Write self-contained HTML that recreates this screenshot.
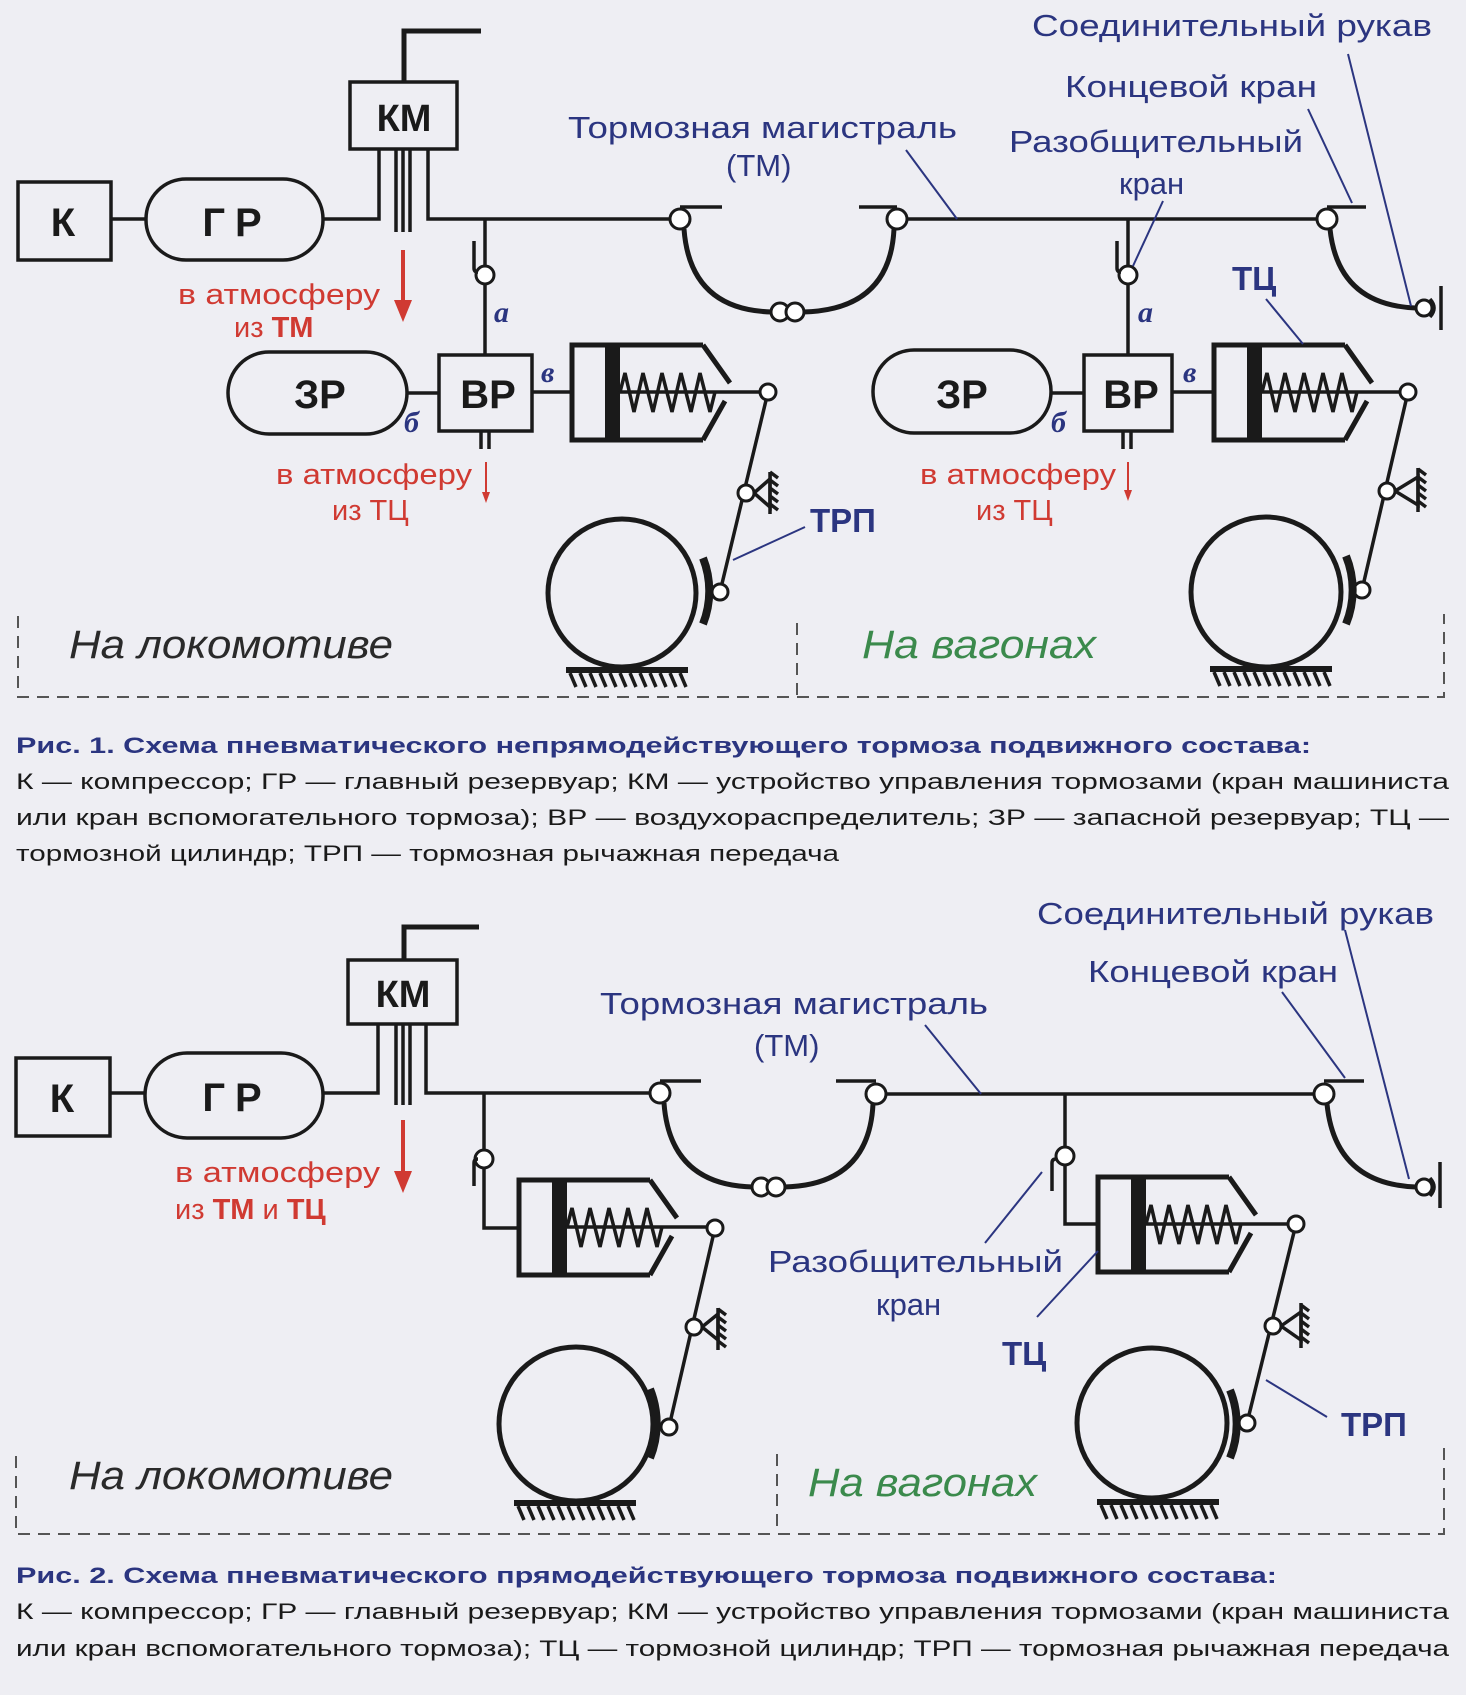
<!DOCTYPE html>
<html><head><meta charset="utf-8"><style>
html,body{margin:0;padding:0;background:#eeeef3;}
svg{display:block}
.ln{stroke:#1a1a1a;stroke-width:3.5;fill:none}
.th{stroke:#1a1a1a;stroke-width:5;fill:none}
.lead{stroke:#2b3580;stroke-width:2;fill:none}
.bx{font-family:"Liberation Sans",sans-serif;font-weight:bold;fill:#1a1a1a;text-anchor:middle}
.bl{font-family:"Liberation Sans",sans-serif;fill:#2b3580}
.rd{font-family:"Liberation Sans",sans-serif;fill:#d03a32;font-size:29px}
.it{font-family:"Liberation Serif",serif;font-style:italic;font-weight:bold;fill:#2b3580;font-size:30px}
.cap{font-family:"Liberation Sans",sans-serif;fill:#1a1a1a;font-size:22px}
.capb{font-family:"Liberation Sans",sans-serif;fill:#2b3580;font-size:22px;font-weight:bold}
.dash{stroke:#555;stroke-width:2;stroke-dasharray:12 8;fill:none}
</style></head><body>
<svg width="1466" height="1695" viewBox="0 0 1466 1695" xmlns="http://www.w3.org/2000/svg">
<defs>
<g id="cyl">
<path class="th" d="M131,0 L0,0 L0,95 L131,95"/>
<path class="th" d="M131,0 L158,38 M153,56 L131,95"/>
<rect x="33" y="0" width="15" height="95" fill="#1a1a1a"/>
<polyline class="ln" stroke-width="3" points="48,47 53,28 62,67 71,28 81,67 90,28 100,67 109,28 119,67 128,28 138,67 143,47"/>
<line class="ln" x1="48" y1="47" x2="196" y2="47"/>
</g>
<g id="hatchR"><path class="ln" stroke-width="1.5" d="M0,0 l8,6 M0,8 l8,6 M0,16 l8,6 M0,24 l8,6 M0,32 l8,6"/></g>
<g id="rail">
<rect x="0" y="0" width="122" height="6" fill="#1a1a1a"/>
<path class="ln" stroke-width="1.5" d="M4,6 l6,14 M14,6 l6,14 M24,6 l6,14 M34,6 l6,14 M44,6 l6,14 M54,6 l6,14 M64,6 l6,14 M74,6 l6,14 M84,6 l6,14 M94,6 l6,14 M104,6 l6,14 M114,6 l6,14"/>
</g>
</defs>

<!-- ================= FIG 1 ================= -->
<!-- К, ГР -->
<rect class="ln" x="18" y="182" width="93" height="78" fill="none" stroke-width="3"/>
<text class="bx" x="63" y="236" font-size="40">К</text>
<line class="ln" x1="111" y1="219" x2="146" y2="219"/>
<rect class="ln" x="146" y="179" width="177" height="81" rx="40" stroke-width="3"/>
<text class="bx" x="237" y="236" font-size="40" letter-spacing="10">ГР</text>
<path class="ln" d="M323,219 H379 V149"/>
<!-- КМ -->
<rect class="ln" x="350" y="82" width="107" height="67" stroke-width="3"/>
<text class="bx" x="404" y="131" font-size="38">КМ</text>
<path class="th" stroke-width="6" d="M404,82 V31 H481"/>
<path class="ln" stroke-width="2.5" d="M396,149 V232 M403,149 V232 M410,149 V232"/>
<path class="ln" d="M428,149 V219 H670"/>
<!-- red arrow 1 -->
<line x1="403" y1="250" x2="403" y2="305" stroke="#d03a32" stroke-width="4"/>
<path d="M394,300 L412,300 L403,322 Z" fill="#d03a32"/>
<text class="rd" x="178" y="304" textLength="202" lengthAdjust="spacingAndGlyphs">в атмосферу</text>
<text class="rd" x="234" y="337">из <tspan font-weight="bold">ТМ</tspan></text>
<!-- branch loco -->
<path class="ln" d="M485,219 V265 M485,284 V355"/>
<circle cx="485" cy="275" r="9" fill="#fff" stroke="#1a1a1a" stroke-width="3"/>
<path class="ln" stroke-width="3" d="M474,241 V268 Q474,272 478,272"/>
<text class="it" x="494" y="322">а</text>
<!-- ЗР ВР -->
<rect class="ln" x="228" y="352" width="179" height="82" rx="41" stroke-width="3"/>
<text class="bx" x="320" y="408" font-size="40">ЗР</text>
<line class="ln" x1="407" y1="393" x2="439" y2="393"/>
<rect class="ln" x="439" y="355" width="93" height="76" stroke-width="3"/>
<text class="bx" x="488" y="408" font-size="40">ВР</text>
<text class="it" x="404" y="432">б</text>
<text class="it" x="541" y="382">в</text>
<line class="ln" x1="532" y1="392" x2="572" y2="392"/>
<path class="ln" stroke-width="2.5" d="M481,431 V449 M489,431 V449"/>
<line x1="486" y1="462" x2="486" y2="495" stroke="#d03a32" stroke-width="2"/>
<path d="M482,492 L490,492 L486,503 Z" fill="#d03a32"/>
<text class="rd" x="276" y="484" textLength="196" lengthAdjust="spacingAndGlyphs" font-size="27">в атмосферу</text>
<text class="rd" x="332" y="520" font-size="27">из ТЦ</text>
<!-- cylinder loco fig1 -->
<use href="#cyl" x="572" y="345"/>
<!-- lever loco fig1 -->
<path class="ln" stroke-width="6" d="M768,392 L720,592"/>
<circle cx="768" cy="392" r="8" fill="#fff" stroke="#1a1a1a" stroke-width="3"/>
<circle cx="720" cy="592" r="8" fill="#fff" stroke="#1a1a1a" stroke-width="3"/>
<path class="ln" stroke-width="3" d="M754,493 L770,479 L770,507 Z"/>
<line class="ln" x1="770" y1="472" x2="770" y2="514" stroke-width="3"/>
<use href="#hatchR" x="770" y="472"/>
<circle cx="746" cy="493" r="8" fill="#fff" stroke="#1a1a1a" stroke-width="3"/>
<circle cx="622" cy="593" r="74" fill="none" stroke="#1a1a1a" stroke-width="5"/>
<path d="M703,558 A90,90 0 0 1 703,624" fill="none" stroke="#1a1a1a" stroke-width="8"/>
<use href="#rail" x="566" y="667"/>
<text class="bl" x="810" y="532" font-size="33" font-weight="bold">ТРП</text>
<line class="lead" x1="805" y1="527" x2="733" y2="560"/>
<!-- TM pipe fig1 -->
<circle cx="680" cy="219" r="10" fill="#fff" stroke="#1a1a1a" stroke-width="3"/>
<line class="ln" x1="680" y1="207" x2="722" y2="207"/>
<path class="th" d="M684,229 Q690,310 772,312"/>
<circle cx="780" cy="312" r="9" fill="#fff" stroke="#1a1a1a" stroke-width="3"/>
<circle cx="795" cy="312" r="9" fill="#fff" stroke="#1a1a1a" stroke-width="3"/>
<path class="th" d="M803,312 Q890,310 894,229"/>
<circle cx="897" cy="219" r="10" fill="#fff" stroke="#1a1a1a" stroke-width="3"/>
<line class="ln" x1="859" y1="207" x2="897" y2="207"/>
<line class="ln" x1="907" y1="219" x2="1317" y2="219"/>
<circle cx="1327" cy="219" r="10" fill="#fff" stroke="#1a1a1a" stroke-width="3"/>
<line class="ln" x1="1327" y1="207" x2="1366" y2="207"/>
<path class="th" d="M1330,229 Q1338,305 1416,308"/>
<circle cx="1424" cy="308" r="8" fill="#fff" stroke="#1a1a1a" stroke-width="3"/>
<path class="ln" stroke-width="3" d="M1430,299 Q1438,308 1430,317"/>
<line class="ln" x1="1441" y1="286" x2="1441" y2="330" stroke-width="3"/>
<!-- car fig1 -->
<path class="ln" d="M1128,219 V265 M1128,284 V355"/>
<circle cx="1128" cy="275" r="9" fill="#fff" stroke="#1a1a1a" stroke-width="3"/>
<path class="ln" stroke-width="3" d="M1117,241 V268 Q1117,272 1121,272"/>
<text class="it" x="1138" y="322">а</text>
<rect class="ln" x="873" y="350" width="178" height="83" rx="41" stroke-width="3"/>
<text class="bx" x="962" y="408" font-size="40">ЗР</text>
<line class="ln" x1="1051" y1="393" x2="1084" y2="393"/>
<rect class="ln" x="1084" y="355" width="88" height="76" stroke-width="3"/>
<text class="bx" x="1131" y="408" font-size="40">ВР</text>
<text class="it" x="1051" y="432">б</text>
<text class="it" x="1183" y="382">в</text>
<line class="ln" x1="1172" y1="392" x2="1214" y2="392"/>
<path class="ln" stroke-width="2.5" d="M1123,431 V449 M1131,431 V449"/>
<line x1="1128" y1="462" x2="1128" y2="493" stroke="#d03a32" stroke-width="2"/>
<path d="M1124,490 L1132,490 L1128,501 Z" fill="#d03a32"/>
<text class="rd" x="920" y="484" textLength="196" lengthAdjust="spacingAndGlyphs" font-size="27">в атмосферу</text>
<text class="rd" x="976" y="520" font-size="27">из ТЦ</text>
<use href="#cyl" x="1214" y="345"/>
<path class="ln" stroke-width="6" d="M1408,392 L1362,590"/>
<circle cx="1408" cy="392" r="8" fill="#fff" stroke="#1a1a1a" stroke-width="3"/>
<circle cx="1362" cy="590" r="8" fill="#fff" stroke="#1a1a1a" stroke-width="3"/>
<path class="ln" stroke-width="3" d="M1395,491 L1418,477 L1418,505 Z"/>
<line class="ln" x1="1418" y1="468" x2="1418" y2="512" stroke-width="3"/>
<use href="#hatchR" x="1418" y="469"/>
<circle cx="1387" cy="491" r="8" fill="#fff" stroke="#1a1a1a" stroke-width="3"/>
<circle cx="1266" cy="592" r="75" fill="none" stroke="#1a1a1a" stroke-width="5"/>
<path d="M1346,556 A90,90 0 0 1 1346,624" fill="none" stroke="#1a1a1a" stroke-width="8"/>
<use href="#rail" x="1210" y="666"/>
<!-- labels fig1 -->
<text class="bl" x="1032" y="36" font-size="31" textLength="400" lengthAdjust="spacingAndGlyphs">Соединительный рукав</text>
<text class="bl" x="1065" y="97" font-size="31" textLength="252" lengthAdjust="spacingAndGlyphs">Концевой кран</text>
<text class="bl" x="568" y="138" font-size="31" textLength="389" lengthAdjust="spacingAndGlyphs">Тормозная магистраль</text>
<text class="bl" x="726" y="176" font-size="31">(ТМ)</text>
<text class="bl" x="1009" y="152" font-size="31" textLength="294" lengthAdjust="spacingAndGlyphs">Разобщительный</text>
<text class="bl" x="1119" y="194" font-size="31">кран</text>
<text class="bl" x="1232" y="290" font-size="33" font-weight="bold">ТЦ</text>
<line class="lead" x1="906" y1="150" x2="957" y2="219"/>
<line class="lead" x1="1163" y1="201" x2="1133" y2="266"/>
<line class="lead" x1="1308" y1="109" x2="1352" y2="203"/>
<line class="lead" x1="1348" y1="54" x2="1411" y2="306"/>
<line class="lead" x1="1266" y1="299" x2="1303" y2="344"/>
<!-- dashed fig1 -->
<path class="dash" d="M18,616 V697 H1444 V614"/>
<path class="dash" d="M797,623 V697"/>
<text x="69" y="658" font-family="Liberation Sans,sans-serif" font-style="italic" font-size="40" fill="#2a2a2a" textLength="324" lengthAdjust="spacingAndGlyphs">На локомотиве</text>
<text x="862" y="658" font-family="Liberation Sans,sans-serif" font-style="italic" font-size="40" fill="#3b8a4c" textLength="234" lengthAdjust="spacingAndGlyphs">На вагонах</text>
<!-- caption fig1 -->
<text class="capb" x="16" y="753" textLength="1295" lengthAdjust="spacingAndGlyphs">Рис. 1. Схема пневматического непрямодействующего тормоза подвижного состава:</text>
<text class="cap" x="16" y="789" textLength="1433" lengthAdjust="spacingAndGlyphs">К — компрессор; ГР — главный резервуар; КМ — устройство управления тормозами (кран машиниста</text>
<text class="cap" x="16" y="825" textLength="1433" lengthAdjust="spacingAndGlyphs">или кран вспомогательного тормоза); ВР — воздухораспределитель; ЗР — запасной резервуар; ТЦ —</text>
<text class="cap" x="16" y="861" textLength="823" lengthAdjust="spacingAndGlyphs">тормозной цилиндр; ТРП — тормозная рычажная передача</text>

<!-- ================= FIG 2 ================= -->
<rect class="ln" x="16" y="1058" width="94" height="78" stroke-width="3"/>
<text class="bx" x="62" y="1112" font-size="40">К</text>
<line class="ln" x1="110" y1="1093" x2="145" y2="1093"/>
<rect class="ln" x="145" y="1053" width="178" height="85" rx="42" stroke-width="3"/>
<text class="bx" x="237" y="1111" font-size="40" letter-spacing="10">ГР</text>
<path class="ln" d="M323,1093 H378 V1024"/>
<rect class="ln" x="348" y="960" width="109" height="64" stroke-width="3"/>
<text class="bx" x="403" y="1007" font-size="38">КМ</text>
<path class="th" stroke-width="6" d="M404,960 V927 H479"/>
<path class="ln" stroke-width="2.5" d="M396,1024 V1105 M403,1024 V1105 M410,1024 V1105"/>
<path class="ln" d="M426,1024 V1093 H650"/>
<line x1="403" y1="1120" x2="403" y2="1175" stroke="#d03a32" stroke-width="4"/>
<path d="M394,1171 L412,1171 L403,1193 Z" fill="#d03a32"/>
<text class="rd" x="175" y="1182" textLength="205" lengthAdjust="spacingAndGlyphs">в атмосферу</text>
<text class="rd" x="175" y="1219">из <tspan font-weight="bold">ТМ</tspan> и <tspan font-weight="bold">ТЦ</tspan></text>
<path class="ln" d="M484,1093 V1150 M484,1168 V1228 H519"/>
<circle cx="484" cy="1159" r="9" fill="#fff" stroke="#1a1a1a" stroke-width="3"/>
<path class="ln" stroke-width="3" d="M474,1186 V1163 Q474,1159 478,1159"/>
<use href="#cyl" x="519" y="1180" transform="translate(0,0)"/>
<path class="ln" stroke-width="6" d="M715,1228 L669,1427"/>
<circle cx="715" cy="1228" r="8" fill="#fff" stroke="#1a1a1a" stroke-width="3"/>
<circle cx="669" cy="1427" r="8" fill="#fff" stroke="#1a1a1a" stroke-width="3"/>
<path class="ln" stroke-width="3" d="M702,1327 L718,1314 L718,1340 Z"/>
<line class="ln" x1="718" y1="1308" x2="718" y2="1350" stroke-width="3"/>
<use href="#hatchR" x="718" y="1309"/>
<circle cx="694" cy="1327" r="8" fill="#fff" stroke="#1a1a1a" stroke-width="3"/>
<circle cx="576" cy="1424" r="77" fill="none" stroke="#1a1a1a" stroke-width="5"/>
<path d="M650,1389 A92,92 0 0 1 650,1458" fill="none" stroke="#1a1a1a" stroke-width="8"/>
<use href="#rail" x="514" y="1500"/>
<!-- TM fig2 -->
<circle cx="660" cy="1093" r="10" fill="#fff" stroke="#1a1a1a" stroke-width="3"/>
<line class="ln" x1="660" y1="1081" x2="701" y2="1081"/>
<path class="th" d="M664,1103 Q670,1185 753,1187"/>
<circle cx="761" cy="1187" r="9" fill="#fff" stroke="#1a1a1a" stroke-width="3"/>
<circle cx="776" cy="1187" r="9" fill="#fff" stroke="#1a1a1a" stroke-width="3"/>
<path class="th" d="M784,1187 Q869,1185 873,1104"/>
<circle cx="876" cy="1094" r="10" fill="#fff" stroke="#1a1a1a" stroke-width="3"/>
<line class="ln" x1="836" y1="1081" x2="876" y2="1081"/>
<line class="ln" x1="886" y1="1094" x2="1314" y2="1094"/>
<circle cx="1324" cy="1094" r="10" fill="#fff" stroke="#1a1a1a" stroke-width="3"/>
<line class="ln" x1="1324" y1="1081" x2="1364" y2="1081"/>
<path class="th" d="M1327,1104 Q1335,1184 1416,1187"/>
<circle cx="1424" cy="1187" r="8" fill="#fff" stroke="#1a1a1a" stroke-width="3"/>
<path class="ln" stroke-width="3" d="M1430,1178 Q1438,1187 1430,1196"/>
<line class="ln" x1="1440" y1="1162" x2="1440" y2="1208" stroke-width="3"/>
<!-- car fig2 -->
<path class="ln" d="M1065,1094 V1147 M1065,1165 V1224 H1098"/>
<circle cx="1065" cy="1156" r="9" fill="#fff" stroke="#1a1a1a" stroke-width="3"/>
<path class="ln" stroke-width="3" d="M1052,1191 V1163 Q1052,1159 1056,1159"/>
<use href="#cyl" x="1098" y="1177"/>
<path class="ln" stroke-width="6" d="M1296,1224 L1247,1423"/>
<circle cx="1296" cy="1224" r="8" fill="#fff" stroke="#1a1a1a" stroke-width="3"/>
<circle cx="1247" cy="1423" r="8" fill="#fff" stroke="#1a1a1a" stroke-width="3"/>
<path class="ln" stroke-width="3" d="M1281,1326 L1301,1312 L1301,1340 Z"/>
<line class="ln" x1="1301" y1="1303" x2="1301" y2="1348" stroke-width="3"/>
<use href="#hatchR" x="1301" y="1305"/>
<circle cx="1273" cy="1326" r="8" fill="#fff" stroke="#1a1a1a" stroke-width="3"/>
<circle cx="1152" cy="1423" r="75" fill="none" stroke="#1a1a1a" stroke-width="5"/>
<path d="M1230,1390 A90,90 0 0 1 1230,1458" fill="none" stroke="#1a1a1a" stroke-width="8"/>
<use href="#rail" x="1097" y="1499"/>
<!-- labels fig2 -->
<text class="bl" x="1037" y="924" font-size="31" textLength="397" lengthAdjust="spacingAndGlyphs">Соединительный рукав</text>
<text class="bl" x="1088" y="982" font-size="31" textLength="250" lengthAdjust="spacingAndGlyphs">Концевой кран</text>
<text class="bl" x="600" y="1014" font-size="31" textLength="388" lengthAdjust="spacingAndGlyphs">Тормозная магистраль</text>
<text class="bl" x="754" y="1056" font-size="31">(ТМ)</text>
<text class="bl" x="768" y="1272" font-size="31" textLength="295" lengthAdjust="spacingAndGlyphs">Разобщительный</text>
<text class="bl" x="876" y="1315" font-size="31">кран</text>
<text class="bl" x="1002" y="1365" font-size="33" font-weight="bold">ТЦ</text>
<text class="bl" x="1341" y="1436" font-size="33" font-weight="bold">ТРП</text>
<line class="lead" x1="925" y1="1025" x2="981" y2="1094"/>
<line class="lead" x1="985" y1="1243" x2="1042" y2="1172"/>
<line class="lead" x1="1282" y1="992" x2="1345" y2="1078"/>
<line class="lead" x1="1345" y1="930" x2="1409" y2="1179"/>
<line class="lead" x1="1037" y1="1317" x2="1098" y2="1251"/>
<line class="lead" x1="1327" y1="1417" x2="1266" y2="1380"/>
<path class="dash" d="M16,1456 V1534 H1444 V1442"/>
<path class="dash" d="M777,1454 V1534"/>
<text x="69" y="1489" font-family="Liberation Sans,sans-serif" font-style="italic" font-size="40" fill="#2a2a2a" textLength="324" lengthAdjust="spacingAndGlyphs">На локомотиве</text>
<text x="808" y="1496" font-family="Liberation Sans,sans-serif" font-style="italic" font-size="40" fill="#3b8a4c" textLength="229" lengthAdjust="spacingAndGlyphs">На вагонах</text>
<text class="capb" x="16" y="1583" textLength="1261" lengthAdjust="spacingAndGlyphs">Рис. 2. Схема пневматического прямодействующего тормоза подвижного состава:</text>
<text class="cap" x="16" y="1619" textLength="1433" lengthAdjust="spacingAndGlyphs">К — компрессор; ГР — главный резервуар; КМ — устройство управления тормозами (кран машиниста</text>
<text class="cap" x="16" y="1656" textLength="1433" lengthAdjust="spacingAndGlyphs">или кран вспомогательного тормоза); ТЦ — тормозной цилиндр; ТРП — тормозная рычажная передача</text>
</svg>
</body></html>
